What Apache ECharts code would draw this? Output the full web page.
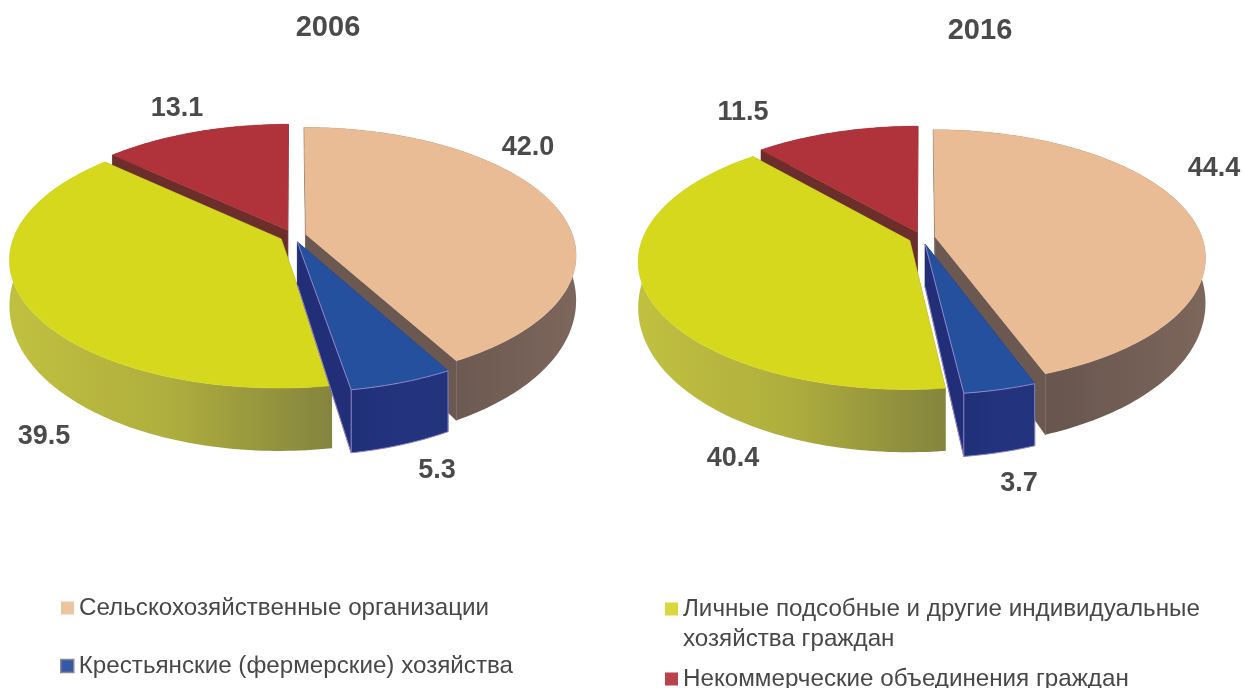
<!DOCTYPE html>
<html><head><meta charset="utf-8">
<style>html,body{margin:0;padding:0;background:#fff}#c{width:1244px;height:688px}</style>
<script src="https://cdn.jsdelivr.net/npm/echarts@6/dist/echarts.min.js"></script>
</head><body><div id="c"></div>
<script>
const years = ['2006', '2016'];
const categories = [
  'Сельскохозяйственные организации',
  'Крестьянские (фермерские) хозяйства',
  'Личные подсобные и другие индивидуальные\nхозяйства граждан',
  'Некоммерческие объединения граждан'
];
const values2006 = [42.0, 5.3, 39.5, 13.1];
const values2016 = [44.4, 3.7, 40.4, 11.5];
const pieValues = [values2006, values2016];

// Layout and style, separate from the data
const centers = [[293, 236], [922, 238]];
const A = 267, B = 124.5, K = 0.158, EXPLODE = 0.05;
const labelPos = [
  [[528,148],[437,471],[44,437],[177,109]],
  [[1214,169],[1019,484],[733,459],[743,113]]
];
const topColor = ['#e9bc96', '#24509e', '#d6d81e', '#b0323a'];
const cutColor = ['#6b5850', '#222f78', '#8a8a3c', '#6b2e2a'];
const wallStops = [
  ['#5f4f48', '#6a5850', '#7d665c'],
  ['#1f2f78', '#23337e', '#23337e'],
  ['#c0c040', '#aeae3e', '#84843e'],
  ['#6b2e2a', '#6b2e2a', '#6b2e2a']
];
const drawOrder = [3, 0, 2, 1];

function project(c, u, v, drop) {
  const w = 1 + K * v;
  const depth = drop ? 42 + 129 * (1 - w) : 0;
  return [c[0] + A * u / w, c[1] - B * v / w + depth];
}

function renderSlice(pieIdx, catIdx, value) {
  const vals = pieValues[pieIdx];
  const total = vals.reduce((a, b) => a + b, 0);
  let before = 0;
  for (let i = 0; i < catIdx; i++) before += vals[i];
  const a0 = before / total * 2 * Math.PI;
  const a1 = (before + value) / total * 2 * Math.PI;
  const mid = (a0 + a1) / 2;
  const ox = EXPLODE * Math.sin(mid), oy = EXPLODE * Math.cos(mid);
  const c = centers[pieIdx];
  const apexT = project(c, ox, oy, false), apexB = project(c, ox, oy, true);
  const arcT = [], arcB = [];
  const steps = Math.max(4, Math.ceil((a1 - a0) / 0.02));
  for (let i = 0; i <= steps; i++) {
    const a = a0 + (a1 - a0) * i / steps;
    const u = ox + Math.sin(a), v = oy + Math.cos(a);
    arcT.push(project(c, u, v, false));
    arcB.push(project(c, u, v, true));
  }
  const n = arcT.length - 1;
  const children = [];
  const poly = (points, fill, extra) => children.push({
    type: 'polygon', shape: { points }, silent: true,
    style: Object.assign({ fill, stroke: fill, lineWidth: 0.5 }, extra || {})
  });
  const line = (points) => children.push({
    type: 'polyline', shape: { points }, silent: true,
    style: { fill: 'none', stroke: '#8f86c6', lineWidth: 1 }
  });
  poly([apexT, arcT[0], arcB[0], apexB], cutColor[catIdx]);
  poly([apexT, arcT[n], arcB[n], apexB], cutColor[catIdx]);
  const s = wallStops[catIdx];
  poly(arcT.concat(arcB.slice().reverse()), s[1], {
    fill: { type: 'linear', x: 0, y: 0, x2: 1, y2: 0, colorStops: [
      { offset: 0, color: s[0] },
      { offset: 0.5, color: s[1] },
      { offset: 1, color: s[2] } ] },
    stroke: 'none'
  });
  poly([apexT].concat(arcT), topColor[catIdx]);
  if (catIdx === 1) {
    line([apexT, arcT[n], arcB[n]]);
    line(arcT);
    line(arcB);
    line([arcT[0], arcB[0]]);
    line([apexB, arcB[n]]);
  }
  const lp = labelPos[pieIdx][catIdx];
  children.push({
    type: 'text', z2: 100, silent: true,
    style: {
      text: value.toFixed(1), x: lp[0], y: lp[1], align: 'center', verticalAlign: 'middle',
      fill: '#4a4a4a', font: 'bold 27px "Liberation Sans", Arial, sans-serif'
    }
  });
  return { type: 'group', children };
}

const legendFont = { color: '#484848', fontSize: 24.2, fontFamily: '"Liberation Sans", Arial, sans-serif', lineHeight: 30 };
const legendBase = { orient: 'vertical', selectedMode: false, itemWidth: 13, itemHeight: 13, padding: 0, symbolKeepAspect: false, textStyle: legendFont };
const titleFont = { fontSize: 29, fontWeight: 'bold', color: '#4a4a4a', fontFamily: '"Liberation Sans", Arial, sans-serif' };

const option = {
  backgroundColor: '#ffffff',
  animation: false,
  title: [
    { text: years[0], left: 323, top: 8, textAlign: 'center', textStyle: titleFont },
    { text: years[1], left: 975, top: 11, textAlign: 'center', textStyle: titleFont }
  ],
  legend: [
    Object.assign({}, legendBase, { left: 61, top: 593, icon: 'rect', data: [categories[0]] }),
    Object.assign({}, legendBase, { left: 60, top: 651, icon: 'rect', data: [{ name: categories[1], itemStyle: { borderColor: '#8a8a8a', borderWidth: 1.5 } }] }),
    Object.assign({}, legendBase, { left: 665, top: 594, itemHeight: 43, icon: 'path://M0 0H13V13H0Z M0 43L0 43Z', data: [categories[2]] }),
    Object.assign({}, legendBase, { left: 665, top: 664, icon: 'rect', data: [categories[3]] })
  ],
  series: drawOrder.map(catIdx => ({
    type: 'custom',
    name: categories[catIdx],
    coordinateSystem: 'none',
    itemStyle: { color: ['#ecc4a0', '#3559a8', '#d8d83c', '#b8434c'][catIdx] },
    data: pieValues.map((vals, p) => [p, vals[catIdx]]),
    renderItem: (params, api) => renderSlice(api.value(0), catIdx, api.value(1))
  }))
};
echarts.init(document.getElementById('c')).setOption(option);
</script></body></html>
